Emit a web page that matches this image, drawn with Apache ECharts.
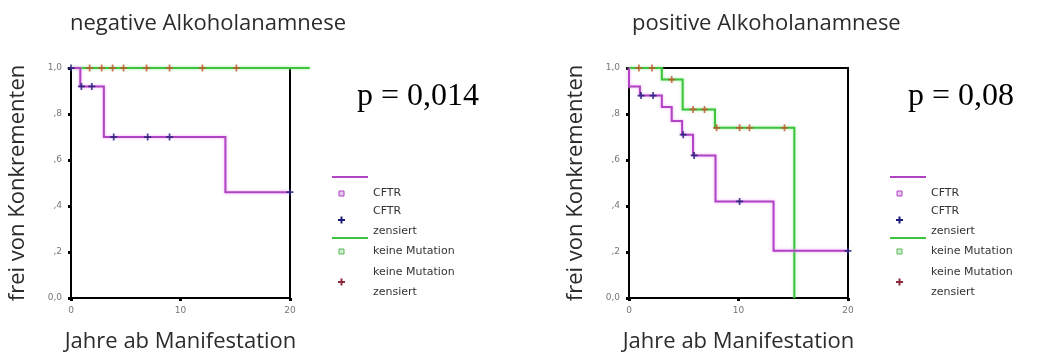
<!DOCTYPE html>
<html>
<head>
<meta charset="utf-8">
<script src="https://cdn.jsdelivr.net/npm/echarts@6/dist/echarts.min.js"></script>
<style>
  html, body { margin: 0; padding: 0; background: #fff; }
  #chart { width: 1045px; height: 353px; }
</style>
</head>
<body>
<div id="chart"></div>
<script>
// Kaplan-Meier curves: step times and survival proportions per group
const xTicks = [0, 10, 20];
const yTicks = [0, 0.2, 0.4, 0.6, 0.8, 1.0];

// negative Alkoholanamnese
const negCftrTime   = [0, 0.85, 3.0, 14.1, 20];
const negCftrSurv   = [1.0, 0.92, 0.70, 0.46, 0.46];
const negCftrCensor = [0, 0.95, 1.9, 3.9, 7.0, 9.0, 20];
const negNoneTime   = [0, 21.8];
const negNoneSurv   = [1.0, 1.0];
const negNoneCensor = [1.7, 2.8, 3.8, 4.8, 6.9, 9.0, 12.0, 15.1];

// positive Alkoholanamnese
const posCftrTime   = [0, 0, 1.0, 3.0, 3.9, 4.85, 5.85, 7.9, 13.2, 20];
const posCftrSurv   = [1.0, 0.92, 0.88, 0.83, 0.77, 0.71, 0.62, 0.42, 0.205, 0.205];
const posCftrCensor = [1.1, 2.2, 4.95, 5.95, 10.1, 20];
const posNoneTime   = [0, 3.0, 4.9, 7.85, 15.1, 15.1];
const posNoneSurv   = [1.0, 0.95, 0.82, 0.74, 0, 0];
const posNoneCensor = [0.9, 2.1, 3.9, 5.85, 6.9, 8.0, 10.1, 11.0, 14.2];

const panelTitles = ['negative Alkoholanamnese', 'positive Alkoholanamnese'];
const pValues = ['p = 0,014', 'p = 0,08'];
const legendLabels = ['CFTR', 'CFTR', 'zensiert', 'keine Mutation', 'keine Mutation', 'zensiert'];

const COL_CFTR = '#b044c4';
const COL_NONE = '#3cc43c';
const COL_CFTR_C = '#1c1c78';
const COL_NONE_C = '#c4502a';
const PLUS = 'path://M3,0H5V3H8V5H5V8H3V5H0V3H3Z';

function pairs(t, s) { return t.map((v, i) => [v, s[i]]); }
// survival value at time x (after any drop at that time)
function survAt(t, s, x) {
  let v = s[0];
  for (let i = 0; i < t.length; i++) if (t[i] <= x) v = s[i];
  return v;
}
function censorPts(t, s, c) { return c.map(x => [x, survAt(t, s, x)]); }

const grids = [
  { left: 71, top: 68, width: 219, height: 230 },
  { left: 629, top: 68, width: 219, height: 230 }
];

function yFmt(v) {
  if (Math.abs(v) < 1e-9) return '0,0';
  if (Math.abs(v - 1) < 1e-9) return '1,0';
  return ',' + Math.round(v * 10);
}

const axisLbl = { fontFamily: 'DejaVu Sans', fontSize: 9, color: '#777' };
const nameStyle = { fontFamily: 'Open Sans', fontSize: 22, color: '#2c2c2c' };

const xAxes = grids.map((g, i) => ({
  gridIndex: i, type: 'value', min: xTicks[0], max: xTicks[xTicks.length - 1], interval: 10,
  axisLine: { show: true, lineStyle: { color: '#000', width: 2 } },
  axisTick: { show: true, length: 3, inside: false, lineStyle: { color: '#000', width: 3 } },
  axisLabel: Object.assign({ margin: 8, formatter: v => String(v) }, axisLbl),
  splitLine: { show: false },
  name: 'Jahre ab Manifestation', nameLocation: 'middle', nameGap: 33,
  nameTextStyle: nameStyle
}));
const yAxes = grids.map((g, i) => ({
  gridIndex: i, type: 'value', min: yTicks[0], max: yTicks[yTicks.length - 1], interval: 0.2,
  axisLine: { show: true, lineStyle: { color: '#000', width: 2 } },
  axisTick: { show: true, length: 3, lineStyle: { color: '#000', width: 3 } },
  axisLabel: Object.assign({ margin: 9, formatter: yFmt }, axisLbl),
  splitLine: { show: false },
  name: 'frei von Konkrementen', nameLocation: 'middle', nameGap: 42,
  nameTextStyle: nameStyle
}));

// step curve drawn as one polyline through the axis scales (may run past the axis end)
function stepSeries(idx, t, s, color, glow) {
  return {
    type: 'custom', xAxisIndex: idx, yAxisIndex: idx, clip: false, z: 3,
    data: pairs(t, s),
    renderItem: function (params, api) {
      if (params.dataIndex !== 0) return null;
      const pts = [];
      for (let i = 0; i < t.length; i++) {
        if (i > 0) pts.push(api.coord([t[i], s[i - 1]]));
        pts.push(api.coord([t[i], s[i]]));
      }
      return {
        type: 'polyline',
        shape: { points: pts },
        style: { stroke: color, lineWidth: 2, fill: null, shadowColor: glow, shadowBlur: 3 }
      };
    },
    animation: false
  };
}
function censorSeries(idx, t, s, c, color) {
  return {
    type: 'scatter', xAxisIndex: idx, yAxisIndex: idx, clip: false,
    data: censorPts(t, s, c), symbol: PLUS, symbolSize: 7, z: 5,
    itemStyle: { color: color }, animation: false
  };
}

const series = [
  stepSeries(0, negNoneTime, negNoneSurv, COL_NONE, 'rgba(150,235,150,0.9)'),
  stepSeries(0, negCftrTime, negCftrSurv, COL_CFTR, 'rgba(240,160,245,0.9)'),
  censorSeries(0, negNoneTime, negNoneSurv, negNoneCensor, COL_NONE_C),
  censorSeries(0, negCftrTime, negCftrSurv, negCftrCensor, COL_CFTR_C),
  stepSeries(1, posNoneTime, posNoneSurv, COL_NONE, 'rgba(150,235,150,0.9)'),
  stepSeries(1, posCftrTime, posCftrSurv, COL_CFTR, 'rgba(240,160,245,0.9)'),
  censorSeries(1, posNoneTime, posNoneSurv, posNoneCensor, COL_NONE_C),
  censorSeries(1, posCftrTime, posCftrSurv, posCftrCensor, COL_CFTR_C)
];

// plus-shaped polygon centred on (cx, cy)
function plusPoints(cx, cy) {
  const a = 1, b = 3.5;
  return [[cx - a, cy - b], [cx + a, cy - b], [cx + a, cy - a], [cx + b, cy - a], [cx + b, cy + a], [cx + a, cy + a],
          [cx + a, cy + b], [cx - a, cy + b], [cx - a, cy + a], [cx - b, cy + a], [cx - b, cy - a], [cx - a, cy - a]];
}

// legend block drawn beside each panel
function legendBlock(x0) {
  const lf = '11px "DejaVu Sans"';
  const tc = '#333';
  const tx = x0 + 41;
  const mx = x0 + 9;
  return [
    { type: 'line', shape: { x1: x0, y1: 177, x2: x0 + 36, y2: 177 }, style: { stroke: COL_CFTR, lineWidth: 2 } },
    { type: 'rect', shape: { x: mx - 2, y: 191, width: 5, height: 5 }, style: { fill: '#e8c8ee', stroke: COL_CFTR, lineWidth: 1 } },
    { type: 'text', style: { text: legendLabels[0], x: tx, y: 193, font: lf, fill: tc, verticalAlign: 'middle' } },
    { type: 'polygon', shape: { points: plusPoints(mx + 0.5, 220) }, style: { fill: COL_CFTR_C } },
    { type: 'text', style: { text: legendLabels[1], x: tx, y: 211, font: lf, fill: tc, verticalAlign: 'middle' } },
    { type: 'text', style: { text: legendLabels[2], x: tx, y: 231, font: lf, fill: tc, verticalAlign: 'middle' } },
    { type: 'line', shape: { x1: x0, y1: 238, x2: x0 + 36, y2: 238 }, style: { stroke: COL_NONE, lineWidth: 2 } },
    { type: 'rect', shape: { x: mx - 2, y: 249, width: 5, height: 5 }, style: { fill: '#cfeecf', stroke: '#5bb85b', lineWidth: 1 } },
    { type: 'text', style: { text: legendLabels[3], x: tx, y: 251, font: lf, fill: tc, verticalAlign: 'middle' } },
    { type: 'polygon', shape: { points: plusPoints(mx + 0.5, 282) }, style: { fill: '#8a2a3a' } },
    { type: 'text', style: { text: legendLabels[4], x: tx, y: 272, font: lf, fill: tc, verticalAlign: 'middle' } },
    { type: 'text', style: { text: legendLabels[5], x: tx, y: 292, font: lf, fill: tc, verticalAlign: 'middle' } }
  ];
}

const option = {
  backgroundColor: '#fff',
  animation: false,
  title: [
    { text: panelTitles[0], left: 65, top: 8, textStyle: { fontFamily: 'Open Sans', fontSize: 22, fontWeight: 'normal', color: '#2c2c2c' } },
    { text: panelTitles[1], left: 627, top: 8, textStyle: { fontFamily: 'Open Sans', fontSize: 22, fontWeight: 'normal', color: '#2c2c2c' } },
    { text: pValues[0], left: 352, top: 76, textStyle: { fontFamily: 'Liberation Serif', fontSize: 32, fontWeight: 'normal', color: '#000' } },
    { text: pValues[1], left: 903, top: 76, textStyle: { fontFamily: 'Liberation Serif', fontSize: 32, fontWeight: 'normal', color: '#000' } }
  ],
  grid: grids.map(g => Object.assign({
    show: true, borderColor: '#000', borderWidth: 2, backgroundColor: 'transparent',
    containLabel: false, outerBoundsMode: 'none'
  }, g)),
  xAxis: xAxes,
  yAxis: yAxes,
  series: series,
  graphic: legendBlock(332).concat(legendBlock(890))
};

const chart = echarts.init(document.getElementById('chart'), null, { renderer: 'canvas' });
chart.setOption(option);
</script>
</body>
</html>
